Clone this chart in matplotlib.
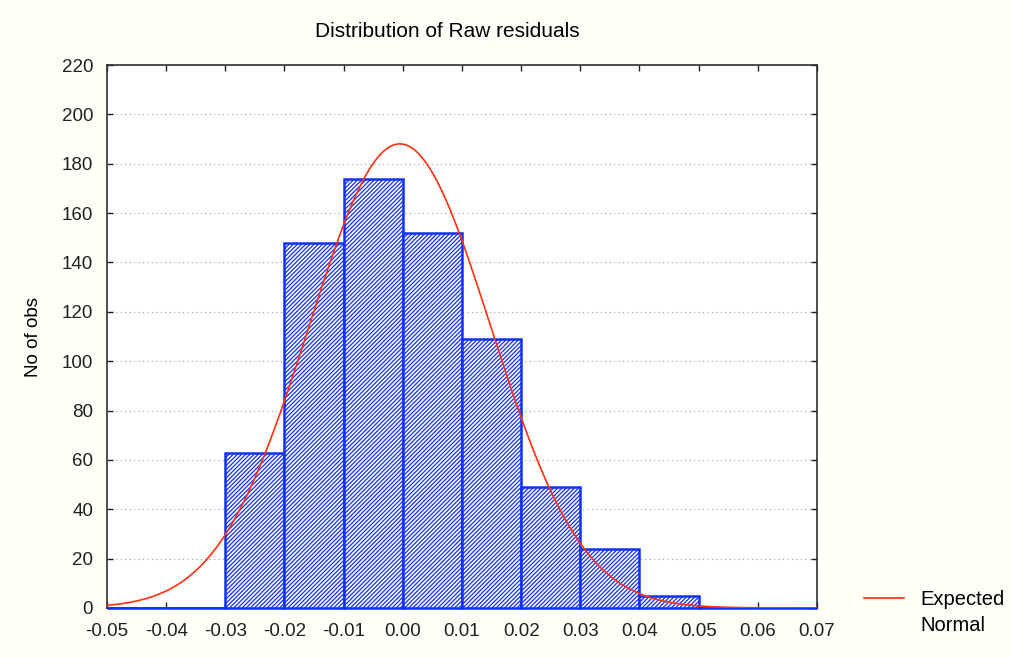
import numpy as np
import matplotlib.pyplot as plt

# histogram of raw residuals, bin edges every 0.01
bin_edges = [-0.05, -0.04, -0.03, -0.02, -0.01, 0.00, 0.01, 0.02, 0.03, 0.04, 0.05, 0.06, 0.07]
counts = [0, 0, 63, 148, 174, 152, 109, 49, 24, 5, 0, 0]

# fitted normal
resid_mean = -0.0005
resid_std = 0.01536

x_ticks = [-0.05, -0.04, -0.03, -0.02, -0.01, 0.00, 0.01, 0.02, 0.03, 0.04, 0.05, 0.06, 0.07]
y_ticks = [0, 20, 40, 60, 80, 100, 120, 140, 160, 180, 200, 220]

plt.rcParams['font.family'] = ['Liberation Sans', 'DejaVu Sans']
plt.rcParams['hatch.linewidth'] = 0.9
plt.rcParams['hatch.color'] = '#3355ee'

fs = 13.5
fig = plt.figure(figsize=(10.12, 6.58), dpi=100, facecolor='#fffff8')
ax = fig.add_axes([0.1057, 0.076, 0.7016, 0.8252])
ax.set_facecolor('white')

lefts = np.array(bin_edges[:-1])
widths = np.diff(bin_edges)
ax.bar(lefts, counts, width=widths, align='edge', facecolor='white',
       edgecolor='#1030ff', linewidth=1.8, hatch='/' * 8, zorder=2.6, clip_on=False)

n_total = sum(counts)
bw = 0.01
xs = np.linspace(-0.05, 0.07, 400)
ys = n_total * bw / (resid_std * np.sqrt(2 * np.pi)) * np.exp(-0.5 * ((xs - resid_mean) / resid_std) ** 2)
line, = ax.plot(xs, ys, color='#ff3010', linewidth=1.2, zorder=3)

ax.set_xlim(-0.05, 0.07)
ax.set_ylim(0, 220)
ax.set_xticks(x_ticks)
ax.set_xticklabels(['%.2f' % v for v in x_ticks])
ax.set_yticks(y_ticks)
ax.yaxis.grid(True, linestyle=(0, (1, 3)), color='#a0a0a0', linewidth=0.8, zorder=0)
ax.set_axisbelow(True)
ax.tick_params(direction='in', length=4, width=1, labelsize=fs, top=True, right=True,
               colors='#202020')
ax.tick_params(axis='x', pad=11)
ax.tick_params(axis='y', pad=10)
for s in ax.spines.values():
    s.set_linewidth(1.2)
    s.set_color('#303030')

ax.set_ylabel('No of obs', fontsize=fs, labelpad=14)
ax.set_title('Distribution of Raw residuals', fontsize=15, pad=20, x=0.48)

leg = fig.legend([line], ['Expected'], loc='center left', bbox_to_anchor=(0.836, 0.089),
                 frameon=False, fontsize=14.5, handlelength=2.0, handletextpad=0.8)
fig.canvas.draw()
txt = leg.get_texts()[0]
bb = txt.get_window_extent().transformed(fig.transFigure.inverted())
fig.text(bb.x0, bb.y0 - 0.04, 'Normal', fontsize=14.5, va='bottom', ha='left')

plt.savefig('out.png', dpi=100, facecolor=fig.get_facecolor())
